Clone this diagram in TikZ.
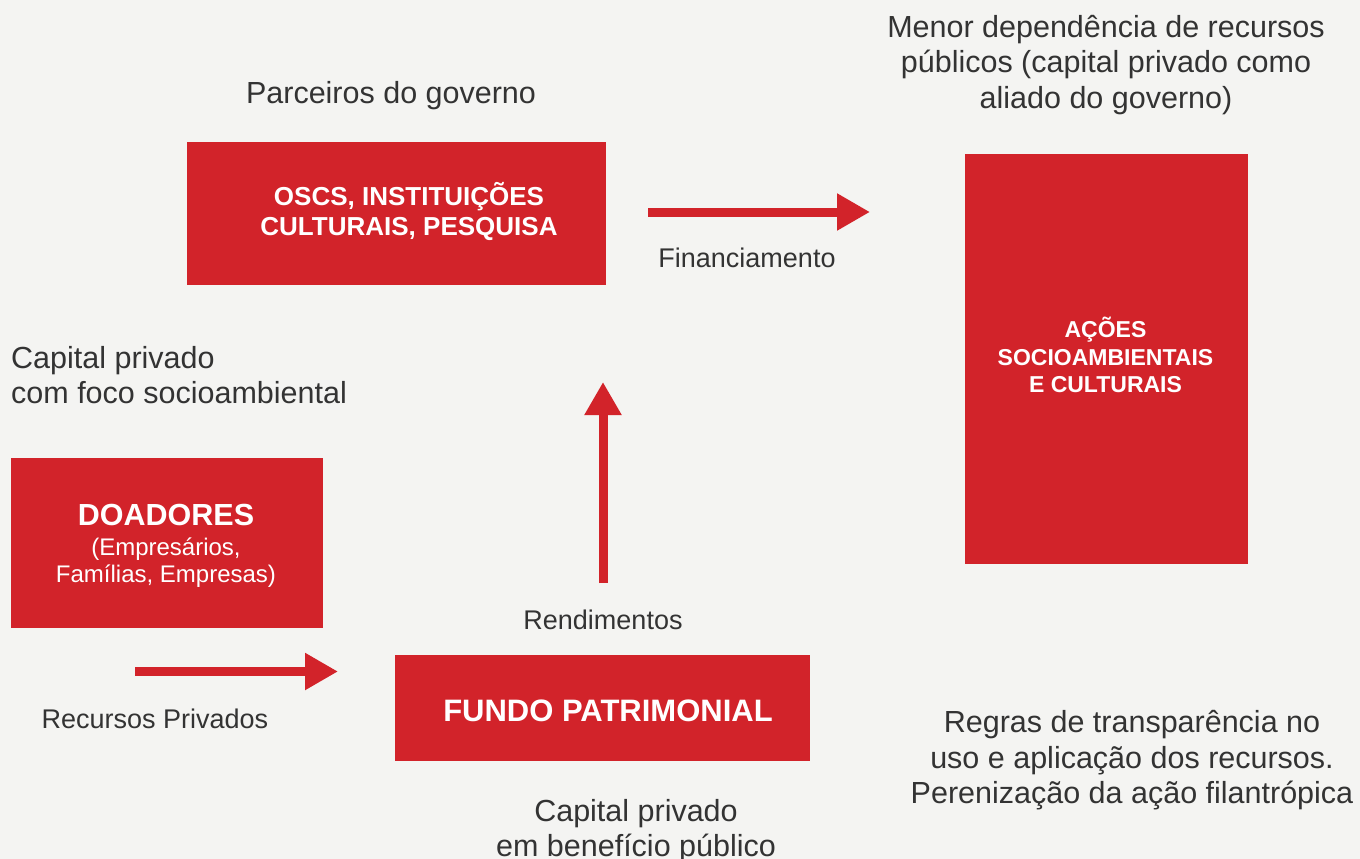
\documentclass[tikz,border=0pt]{standalone}
\usepackage{fontspec}
\setmainfont{Liberation Sans}
\usetikzlibrary{arrows.meta}
\definecolor{bg}{HTML}{F4F4F2}
\definecolor{redbox}{HTML}{D2232A}
\definecolor{txt}{HTML}{333333}
\tikzset{
  box/.style={fill=redbox, draw=none, inner sep=0pt},
  boxtext/.style={text=white, align=center, inner sep=0pt},
  lbl/.style={text=txt, align=center, inner sep=0pt, font=\fontsize{30.5}{35.5}\selectfont},
  slbl/.style={text=txt, align=center, inner sep=0pt, font=\fontsize{27}{32}\selectfont},
  bigarrow/.style={draw=redbox, line width=9pt, -{Triangle[length=33pt,width=35pt]}}
}
\begin{document}
\begin{tikzpicture}[x=1pt,y=-1pt]
\useasboundingbox (0,0) rectangle (1360,859);
\fill[bg] (0,0) rectangle (1360,859);

% boxes
\node[box, minimum width=419pt, minimum height=143pt] (osc) at (396.5,213.5) {};
\node[boxtext, font=\fontsize{26}{30}\selectfont\bfseries] (osct) at (409,211.5) {OSCS, INSTITUIÇÕES\\CULTURAIS, PESQUISA};
\node[box, minimum width=283pt, minimum height=410pt] (acoes) at (1106.5,359) {};
\node[boxtext, font=\fontsize{23}{27.5}\selectfont\bfseries] (acoest) at (1105.5,355) {AÇÕES\\SOCIOAMBIENTAIS\\E CULTURAIS};
\node[box, minimum width=312pt, minimum height=170pt] (doad) at (167,543) {};
\node[boxtext, font=\fontsize{24}{27}\selectfont] (doadt) at (166,545.5) {{\fontsize{30.5}{33}\selectfont\bfseries DOADORES}\\[3pt](Empresários,\\Famílias, Empresas)};
\node[box, minimum width=415pt, minimum height=106pt] (fundo) at (602.5,708) {};
\node[boxtext, font=\fontsize{31}{35}\selectfont\bfseries] (fundot) at (608,710.5) {FUNDO PATRIMONIAL};

% labels
\node[lbl] (parc) at (391,96) {Parceiros do governo};
\node[lbl] (menor) at (1106,65) {Menor dependência de recursos\\públicos (capital privado como\\aliado do governo)};
\node[lbl, align=left, anchor=west] (capfoco) at (11,375) {Capital privado\\com foco socioambiental};
\node[slbl] (fin) at (747,258) {Financiamento};
\node[slbl] (rend) at (603,620) {Rendimentos};
\node[slbl] (recpriv) at (155,719) {Recursos Privados};
\node[lbl] (capben) at (636,831) {Capital privado\\em benefício público};
\node[lbl] (regras) at (1132,760.5) {Regras de transparência no\\uso e aplicação dos recursos.\\Perenização da ação filantrópica};

% arrow end points
\coordinate (finS) at (648,212);
\coordinate (finE) at (870,212);
\coordinate (rendS) at (603,583);
\coordinate (rendE) at (603,382);
\coordinate (recS) at (135,671.5);
\coordinate (recE) at (338,671.5);

\draw[bigarrow] (finS) -- (finE);
\draw[bigarrow] (rendS) -- (rendE);
\draw[bigarrow] (recS) -- (recE);
\end{tikzpicture}
\end{document}
